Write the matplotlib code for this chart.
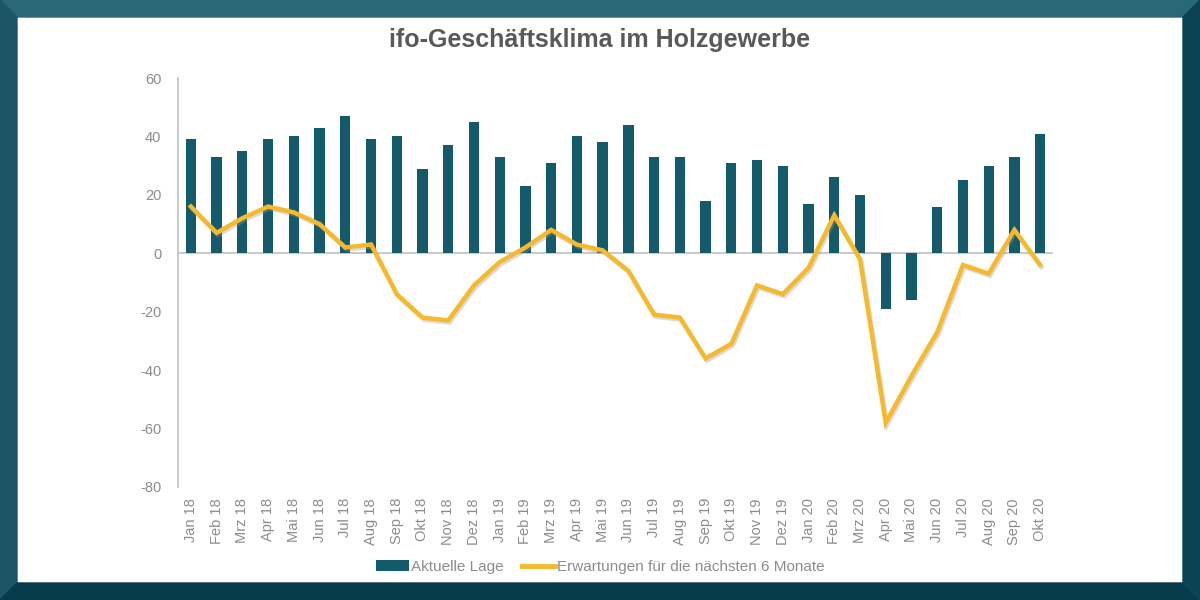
import matplotlib.pyplot as plt
from matplotlib.patches import Polygon, Patch
from matplotlib.lines import Line2D
import matplotlib.patheffects as pe

plt.rcParams['font.family'] = ['Liberation Sans', 'DejaVu Sans']
plt.rcParams['axes.unicode_minus'] = False

# Monate Jan 18 - Okt 20
monate = ['Jan 18', 'Feb 18', 'Mrz 18', 'Apr 18', 'Mai 18', 'Jun 18', 'Jul 18', 'Aug 18',
          'Sep 18', 'Okt 18', 'Nov 18', 'Dez 18',
          'Jan 19', 'Feb 19', 'Mrz 19', 'Apr 19', 'Mai 19', 'Jun 19', 'Jul 19', 'Aug 19',
          'Sep 19', 'Okt 19', 'Nov 19', 'Dez 19',
          'Jan 20', 'Feb 20', 'Mrz 20', 'Apr 20', 'Mai 20', 'Jun 20', 'Jul 20', 'Aug 20',
          'Sep 20', 'Okt 20']

aktuelle_lage = [39, 33, 35, 39, 40, 43, 47, 39, 40, 29, 37, 45,
                 33, 23, 31, 40, 38, 44, 33, 33, 18, 31, 32, 30,
                 17, 26, 20, -19, -16, 16, 25, 30, 33, 41]

erwartungen = [16, 7, 12, 16, 14, 10, 2, 3, -14, -22, -23, -11,
               -3, 2, 8, 3, 1, -6, -21, -22, -36, -31, -11, -14,
               -5, 13, -2, -58, -42, -27, -4, -7, 8, -4]

farbe_bar = '#135a6b'
farbe_linie = '#f6b92b'
grau = '#8c8c8c'

fig = plt.figure(figsize=(12, 6), dpi=100)
fig.patch.set_facecolor('white')

# Rahmen (abgeschraegt)
b = 17 / 1200
bh = 17 / 600
fig.add_artist(Polygon([(0, 1), (1, 1), (1 - b, 1 - bh), (b, 1 - bh)], closed=True,
                       transform=fig.transFigure, color='#2a6878', zorder=0))
fig.add_artist(Polygon([(0, 0), (0, 1), (b, 1 - bh), (b, bh)], closed=True,
                       transform=fig.transFigure, color='#1b5566', zorder=0))
fig.add_artist(Polygon([(0, 0), (1, 0), (1 - b, bh), (b, bh)], closed=True,
                       transform=fig.transFigure, color='#073a4b', zorder=0))
fig.add_artist(Polygon([(1, 0), (1, 1), (1 - b, 1 - bh), (1 - b, bh)], closed=True,
                       transform=fig.transFigure, color='#0b4354', zorder=0))

ax = fig.add_axes([178 / 1200, 113 / 600, 875 / 1200, 409 / 600])
x = list(range(len(monate)))

ax.bar(x, aktuelle_lage, width=0.4, color=farbe_bar, zorder=2)
ax.plot(x, erwartungen, color=farbe_linie, linewidth=3.2, zorder=3,
        solid_joinstyle='miter',
        path_effects=[pe.SimpleLineShadow(offset=(1, -1.5), shadow_color='#999999', alpha=0.35),
                      pe.Normal()])
ax.axhline(0, color='#bfbfbf', linewidth=1.2, zorder=1)

ax.set_xlim(-0.5, len(monate) - 0.5)
ax.set_ylim(-80, 60)
ax.set_yticks(range(-80, 61, 20))
ax.set_xticks(x)
ax.set_xticklabels(monate, rotation=90, color=grau, fontsize=10)
ax.tick_params(axis='both', length=0, colors=grau, labelsize=10.5)
ax.tick_params(axis='x', pad=8)
ax.tick_params(axis='y', pad=12)

for s in ['top', 'right', 'bottom']:
    ax.spines[s].set_visible(False)
ax.spines['left'].set_color('#bfbfbf')
ax.spines['left'].set_linewidth(1.2)

fig.text(0.5, 1 - 40 / 600, 'ifo-Geschäftsklima im Holzgewerbe', ha='center', va='center',
         fontsize=18, fontweight='bold', color='#595959')

handles = [Patch(facecolor=farbe_bar), Line2D([0], [0], color=farbe_linie, linewidth=3.5)]
fig.legend(handles, ['Aktuelle Lage', 'Erwartungen für die nächsten 6 Monate'],
           loc='center', bbox_to_anchor=(0.5, 33 / 600), ncol=2, frameon=False,
           fontsize=11, labelcolor=grau, handlelength=2.2, handletextpad=0.1,
           columnspacing=1.2)

fig.savefig('out.png', dpi=100)
